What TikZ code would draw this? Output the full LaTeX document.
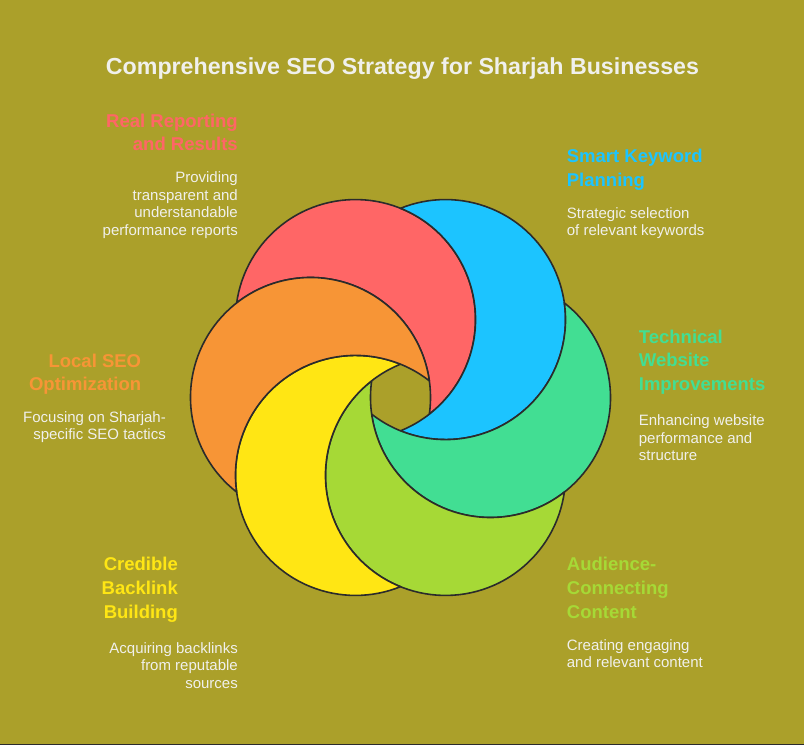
\documentclass[tikz,border=0pt]{standalone}
\usepackage{fontspec}
\setmainfont{Liberation Sans}
\definecolor{bgol}{HTML}{ABA02A}
\definecolor{edgegray}{HTML}{2B2B2B}
\definecolor{txtw}{HTML}{F0F0EC}
\definecolor{cred}{HTML}{FF6666}
\definecolor{cblue}{HTML}{1CC4FF}
\definecolor{cteal}{HTML}{42DE93}
\definecolor{clime}{HTML}{A6D936}
\definecolor{cyel}{HTML}{FFE614}
\definecolor{corange}{HTML}{F79536}
\begin{document}
\begin{tikzpicture}[x=1pt,y=1pt]
\tikzstyle{every node}+=[inner sep=0pt]
\tikzstyle{head}=[font=\fontsize{18.5}{23.8}\selectfont\bfseries]
\tikzstyle{desc}=[font=\fontsize{15}{17.5}\selectfont, text=txtw]
\fill [bgol] (0,0) rectangle (804,745);
\useasboundingbox (0,0) rectangle (804,745);
\fill [edgegray] (0,0) rectangle (804,1.2);
\coordinate (o) at (400.5,347.5);
\foreach \a/\c in {120/cred,60/cblue,0/cteal,300/clime,240/cyel,180/corange}
  \draw [fill=\c, draw=edgegray, line width=1.6pt, line join=round] (o) ++(\a:90) ++(\a+187.98:120)
    arc [start angle=\a+187.98, end angle=\a+412.02, radius=120]
    arc [start angle=\a+367.98, end angle=\a+232.02, radius=120] -- cycle;
\node (title) [anchor=base, text=txtw, font=\fontsize{23.2}{28}\selectfont\bfseries] at (402.5,670.7) {Comprehensive SEO Strategy for Sharjah Businesses};
\node (hreal) [head, text=cred, anchor=base east, align=right] at (238,594) {Real Reporting\\and Results};
\node (dreal) [desc, anchor=base east, align=right] at (238,509.7) {Providing\\transparent and\\understandable\\performance reports};
\node (hkey) [head, text=cblue, anchor=base west, align=left] at (566.7,558.3) {Smart Keyword\\Planning};
\node (dkey) [desc, anchor=base west, align=left] at (566.7,509) {Strategic selection\\of relevant keywords};
\node (htech) [head, text=cteal, anchor=base west, align=left] at (638.7,354.3) {Technical\\Website\\Improvements};
\node (dtech) [desc, anchor=base west, align=left] at (638.7,284) {Enhancing website\\performance and\\structure};
\node (hlocal) [head, text=corange, anchor=base east, align=right] at (141.3,354) {Local SEO\\Optimization};
\node (dlocal) [desc, anchor=base east, align=right] at (166,305) {Focusing on Sharjah-\\specific SEO tactics};
\node (hlink) [head, text=cyel, anchor=base east, align=right] at (178,126.7) {Credible\\Backlink\\Building};
\node (dlink) [desc, anchor=base east, align=right] at (238,56.7) {Acquiring backlinks\\from reputable\\sources};
\node (haud) [head, text=clime, anchor=base west, align=left] at (566.7,126.7) {Audience-\\Connecting\\Content};
\node (daud) [desc, anchor=base west, align=left] at (566.7,77.3) {Creating engaging\\and relevant content};
\end{tikzpicture}
\end{document}
